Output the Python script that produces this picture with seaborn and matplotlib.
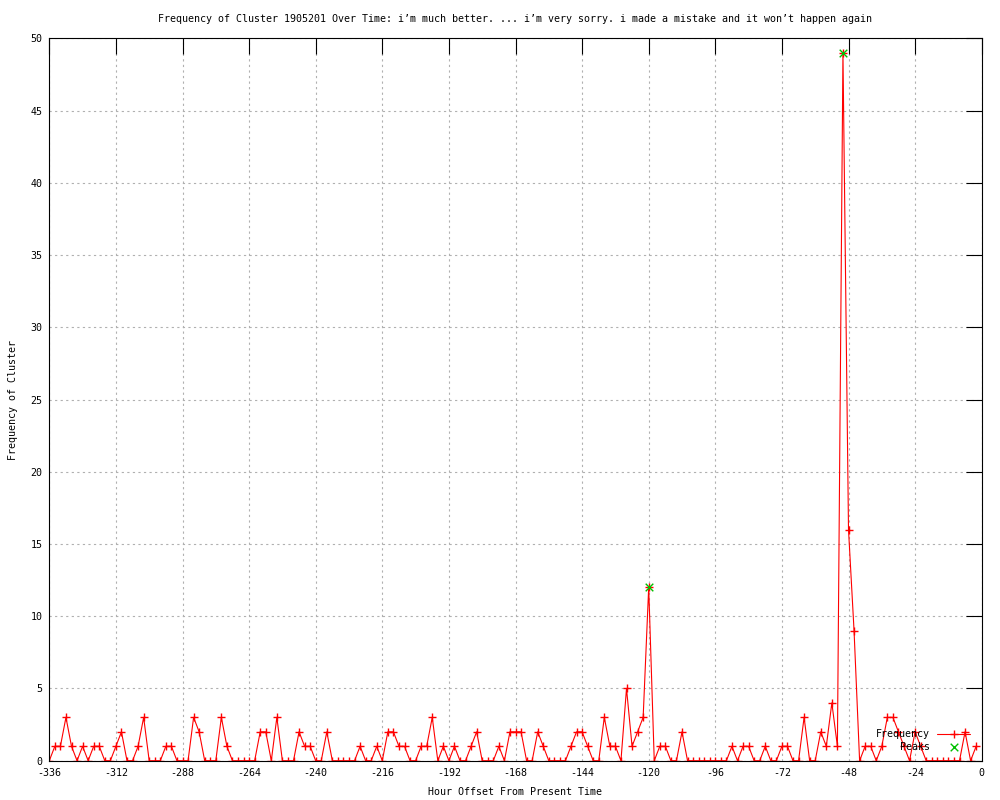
import numpy as np
import pandas as pd
import matplotlib
matplotlib.use('Agg')
import matplotlib.pyplot as plt
import seaborn as sns

# counts every 2 hours, from -336 up to -2
hours = list(range(-336, 0, 2))
freq = [0, 1, 1, 3, 1, 0, 1, 0, 1, 1, 0, 0,
        1, 2, 0, 0, 1, 3, 0, 0, 0, 1, 1, 0,
        0, 0, 3, 2, 0, 0, 0, 3, 1, 0, 0, 0,
        0, 0, 2, 2, 0, 3, 0, 0, 0, 2, 1, 1,
        0, 0, 2, 0, 0, 0, 0, 0, 1, 0, 0, 1,
        0, 2, 2, 1, 1, 0, 0, 1, 1, 3, 0, 1,
        0, 1, 0, 0, 1, 2, 0, 0, 0, 1, 0, 2,
        2, 2, 0, 0, 2, 1, 0, 0, 0, 0, 1, 2,
        2, 1, 0, 0, 3, 1, 1, 0, 5, 1, 2, 3,
        12, 0, 1, 1, 0, 0, 2, 0, 0, 0, 0, 0,
        0, 0, 0, 1, 0, 1, 1, 0, 0, 1, 0, 0,
        1, 1, 0, 0, 3, 0, 0, 2, 1, 4, 1, 49,
        16, 9, 0, 1, 1, 0, 1, 3, 3, 2, 1, 0,
        2, 1, 0, 0, 0, 0, 0, 0, 0, 2, 0, 1]
peak_hours = [-120, -50]
peak_vals = [12, 49]

x_ticks = list(range(-336, 1, 24))
y_ticks = list(range(0, 51, 5))

title = ("Frequency of Cluster 1905201 Over Time: i\u2019m much better. ... "
         "i\u2019m very sorry. i made a mistake and it won\u2019t happen again")

sns.set_theme(style='white')
plt.rcParams['font.family'] = ['DejaVu Sans Mono']
plt.rcParams['axes.unicode_minus'] = False
plt.rcParams['text.color'] = 'black'
plt.rcParams['axes.labelcolor'] = 'black'
fs = 7.2

df = pd.DataFrame({'hour': hours, 'freq': freq})
peaks = pd.DataFrame({'hour': peak_hours, 'freq': peak_vals})

fig = plt.figure(figsize=(10, 8), dpi=100)
ax = fig.add_axes([0.0493, 0.0491, 0.9324, 0.903])

sns.lineplot(data=df, x='hour', y='freq', ax=ax, color='#ff0000', lw=0.8,
             marker='+', markersize=6, markeredgewidth=1.0,
             markeredgecolor='#ff0000', label='Frequency')
sns.scatterplot(data=peaks, x='hour', y='freq', ax=ax, color='#00c000',
                marker='x', s=30, linewidth=1.0, label='Peaks', zorder=5)

ax.set_xlim(-336, 0)
ax.set_ylim(0, 50)
ax.set_xticks(x_ticks)
ax.set_yticks(y_ticks)
ax.tick_params(direction='in', length=11.5, width=0.8, color='black',
               top=True, right=True, labelsize=fs, pad=5, labelcolor='black')
ax.grid(True, color='#b0b0b0', linestyle=(0, (2, 3)), linewidth=0.8)
for s in ax.spines.values():
    s.set_color('black')
    s.set_linewidth(0.8)

ax.set_title(title, fontsize=fs, pad=12, color='black')
ax.set_xlabel('Hour Offset From Present Time', fontsize=fs)
ax.set_ylabel('Frequency of Cluster', fontsize=fs)
ax.xaxis.set_label_coords(0.5, -0.037)
ax.yaxis.set_label_coords(-0.034, 0.5)

ax.legend(loc='lower right', bbox_to_anchor=(0.9875, 0.012), frameon=False,
          markerfirst=False, fontsize=fs, handlelength=3.3, handletextpad=0.7,
          labelspacing=0.3, borderpad=0, borderaxespad=0)
leg = ax.get_legend()
# right-align labels like gnuplot
leg.get_texts()[1].set_text('    Peaks')

fig.savefig('out.png', dpi=100)
